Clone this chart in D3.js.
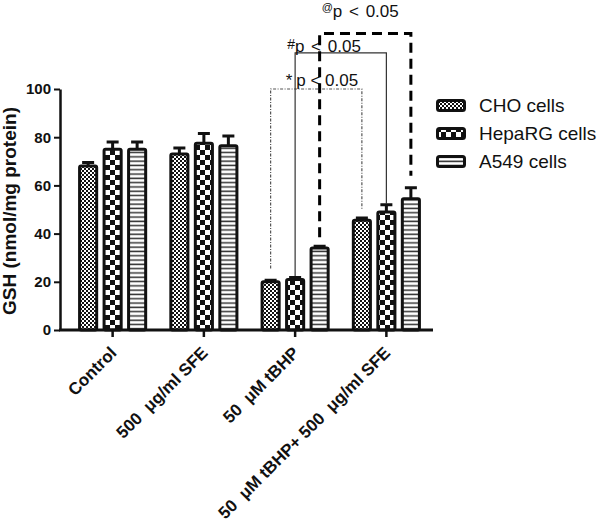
<!DOCTYPE html>
<html>
<head>
<meta charset="utf-8">
<script src="https://cdn.jsdelivr.net/npm/d3@7"></script>
<style>
  body { margin: 0; background: #fff; }
  svg { display: block; font-family: "Liberation Sans", Arial, sans-serif; }
</style>
</head>
<body>
<svg id="chart" width="600" height="529"></svg>
<script>
// groups on the x axis (double gap before the mu, as in the figure)
const groups = ["Control", "500  \u03BCg/ml SFE", "50  \u03BCM tBHP", "50  \u03BCM tBHP+ 500  \u03BCg/ml SFE"];
const series = ["CHO cells", "HepaRG cells", "A549 cells"];

// GSH means and SEM
const choMean = [68, 73, 20, 45.5];
const choErr = [1.5, 2.5, 0.6, 1];
const hepargMean = [75, 77.5, 21, 49];
const hepargErr = [3, 4, 0.8, 3];
const a549Mean = [75, 76.5, 34, 54.5];
const a549Err = [3, 4, 0.8, 4.5];

const yTicks = [0, 20, 40, 60, 80, 100];

// significance brackets (tBHP vs tBHP + SFE, one per cell line)
const sigSymbols = ["*", "#", "@"];
const sigText = "p < 0.05";
const sigTop = [100, 115, 123];
const sigLeftEnd = [25.5, 22, 38.5];
const sigRightEnd = [50, 52.5, 64];

const means = [choMean, hepargMean, a549Mean];
const errs = [choErr, hepargErr, a549Err];
const patIds = ["pat-cho", "pat-hep", "pat-a549"];

const svg = d3.select("#chart");

// patterns
const defs = svg.append("defs");
let p = defs.append("pattern").attr("id", "pat-cho")
  .attr("patternUnits", "userSpaceOnUse").attr("width", 4).attr("height", 4);
p.append("rect").attr("width", 4).attr("height", 4).attr("fill", "#fff");
p.append("rect").attr("width", 2).attr("height", 2).attr("fill", "#111");
p.append("rect").attr("x", 2).attr("y", 2).attr("width", 2).attr("height", 2).attr("fill", "#111");

p = defs.append("pattern").attr("id", "pat-hep")
  .attr("patternUnits", "userSpaceOnUse").attr("width", 10).attr("height", 10);
p.append("rect").attr("width", 10).attr("height", 10).attr("fill", "#fff");
p.append("rect").attr("width", 5).attr("height", 5).attr("fill", "#111");
p.append("rect").attr("x", 5).attr("y", 5).attr("width", 5).attr("height", 5).attr("fill", "#111");

p = defs.append("pattern").attr("id", "pat-a549")
  .attr("patternUnits", "userSpaceOnUse").attr("width", 6).attr("height", 4.3);
p.append("rect").attr("width", 6).attr("height", 4.3).attr("fill", "#fff");
p.append("rect").attr("y", 1.3).attr("width", 6).attr("height", 1.5).attr("fill", "#333");

// scales
const x0 = d3.scaleBand().domain(groups).range([67, 432]);
const half = 36.75;
const x1 = d3.scaleBand().domain(series)
  .range([x0.bandwidth() / 2 - half, x0.bandwidth() / 2 + half])
  .paddingInner(0.18).paddingOuter(0.09);
const y = d3.scaleLinear().domain([0, 100]).range([330, 89]);

const cx = (gi, si) => x0(groups[gi]) + x1(series[si]) + x1.bandwidth() / 2;

// brackets
const bracketStyles = [
  { stroke: "#555", width: 1.2, dash: "3,1.5,1,1.5" },
  { stroke: "#333", width: 1.2, dash: null },
  { stroke: "#000", width: 3, dash: "10,6" }
];
const labelDx = [15, -8, 2];
const labelDy = [-3, -1, -17];

sigSymbols.forEach((sym, i) => {
  const xl = cx(2, i), xr = cx(3, i);
  const st = bracketStyles[i];
  svg.append("path")
    .attr("d", `M${xl},${y(sigLeftEnd[i])}V${y(sigTop[i])}H${xr}V${y(sigRightEnd[i])}`)
    .attr("fill", "none")
    .attr("stroke", st.stroke)
    .attr("stroke-width", st.width)
    .attr("stroke-dasharray", st.dash);

  const t = svg.append("text")
    .attr("x", xl + labelDx[i])
    .attr("y", y(sigTop[i]) + labelDy[i])
    .attr("font-size", 17)
    .attr("fill", "#111");
  if (i === 0) {
    t.append("tspan").text(sym);
    t.append("tspan").attr("dx", 4).text(sigText);
  } else {
    const small = i === 1 ? 14 : 11;
    const up = i === 1 ? -3 : -6;
    t.append("tspan").attr("font-size", small).attr("dy", up).text(sym);
    t.append("tspan").attr("dy", -up).attr("word-spacing", 2).text(sigText);
  }
});

// bars
series.forEach((s, si) => {
  const g = svg.append("g");
  g.selectAll("rect")
    .data(groups)
    .join("rect")
    .attr("x", (d, gi) => cx(gi, si) - x1.bandwidth() / 2 + 1.5)
    .attr("y", (d, gi) => y(means[si][gi]))
    .attr("width", x1.bandwidth() - 3)
    .attr("height", (d, gi) => y(0) - y(means[si][gi]))
    .attr("rx", 1.5)
    .attr("fill", `url(#${patIds[si]})`)
    .attr("stroke", "#111")
    .attr("stroke-width", 3);

  // upper error bars
  g.selectAll("path.err")
    .data(groups)
    .join("path")
    .attr("class", "err")
    .attr("d", (d, gi) => {
      const c = cx(gi, si);
      const top = y(means[si][gi] + errs[si][gi]);
      return `M${c},${y(means[si][gi])}V${top}M${c - 6},${top}H${c + 6}`;
    })
    .attr("fill", "none")
    .attr("stroke", "#111")
    .attr("stroke-width", 3);
});

// y axis
const yAxis = svg.append("g")
  .attr("transform", "translate(60,0)")
  .call(d3.axisLeft(y).tickValues(yTicks).tickSize(6).tickSizeOuter(0).tickPadding(3));
yAxis.select(".domain").attr("stroke", "#111").attr("stroke-width", 2.5);
yAxis.selectAll(".tick line").attr("stroke", "#111").attr("stroke-width", 2);
yAxis.selectAll(".tick text")
  .attr("font-family", "Liberation Sans, Arial, sans-serif")
  .attr("font-size", 15)
  .attr("font-weight", "bold")
  .attr("fill", "#111");

// x axis
const xAxis = svg.append("g")
  .attr("transform", `translate(0,${y(0)})`)
  .call(d3.axisBottom(x0).tickSize(7).tickSizeOuter(0));
xAxis.select(".domain").remove();
xAxis.selectAll(".tick line").attr("stroke", "#111").attr("stroke-width", 2.5);
xAxis.selectAll(".tick text")
  .attr("x", null).attr("y", null).attr("dy", null)
  .attr("transform", "translate(5,24) rotate(-45)")
  .attr("text-anchor", "end")
  .style("white-space", "pre")
  .attr("font-family", "Liberation Sans, Arial, sans-serif")
  .attr("font-size", 17)
  .attr("font-weight", "bold")
  .attr("fill", "#111");
svg.append("line")
  .attr("x1", 59).attr("x2", 433)
  .attr("y1", y(0)).attr("y2", y(0))
  .attr("stroke", "#111").attr("stroke-width", 3);

// y label
svg.append("text")
  .attr("transform", "translate(16,211) rotate(-90)")
  .attr("text-anchor", "middle")
  .attr("font-size", 19)
  .attr("font-weight", "bold")
  .attr("fill", "#111")
  .text("GSH (nmol/mg protein)");

// legend
const legend = svg.append("g").attr("transform", "translate(436,99)");
series.forEach((s, i) => {
  const row = legend.append("g").attr("transform", `translate(0,${i * 28})`);
  row.append("rect")
    .attr("x", 1.5).attr("y", 1.5)
    .attr("width", 27).attr("height", 10)
    .attr("rx", 2)
    .attr("fill", `url(#${patIds[i]})`)
    .attr("stroke", "#111")
    .attr("stroke-width", 3);
  row.append("text")
    .attr("x", 43).attr("y", 13)
    .attr("font-size", 19)
    .attr("fill", "#111")
    .text(s);
});
</script>
</body>
</html>
